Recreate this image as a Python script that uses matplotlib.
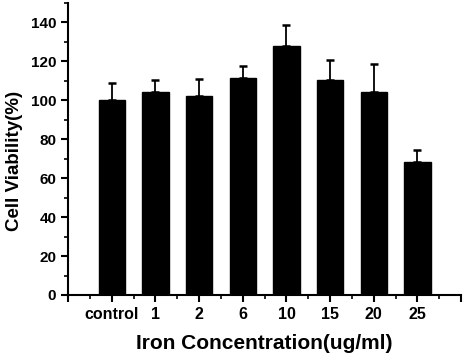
import numpy as np
import matplotlib
matplotlib.use("Agg")
import matplotlib.pyplot as plt
from matplotlib.ticker import MultipleLocator

plt.rcParams['font.family'] = ['Liberation Sans', 'DejaVu Sans']
plt.rcParams['font.weight'] = 'bold'

labels = ['control', '1', '2', '6', '10', '15', '20', '25']
viability = [100, 104.4, 102, 111.2, 127.7, 110.2, 104.4, 68.5]
errors = [9, 6, 9, 6.5, 11, 10.3, 14, 6]

fig = plt.figure(figsize=(4.63, 3.58), dpi=100)
ax = fig.add_axes([0.147, 0.176, 0.849, 0.816])

x = np.arange(1, len(labels) + 1)
ax.bar(x, viability, width=0.6, color='black', edgecolor='black')
ax.errorbar(x, viability, yerr=[np.zeros(len(errors)), errors], fmt='none',
            ecolor='black', elinewidth=1.3, capsize=3, capthick=1.8)

ax.set_xlim(0, 9)
ax.set_ylim(0, 150)
ax.set_xticks(np.arange(0, 10))
ax.set_xticklabels([''] + labels + [''])
ax.xaxis.set_minor_locator(MultipleLocator(0.5))
ax.yaxis.set_minor_locator(MultipleLocator(10))
ax.set_yticks(np.arange(0, 141, 20))

for s in ['top', 'right']:
    ax.spines[s].set_visible(False)
for s in ['left', 'bottom']:
    ax.spines[s].set_linewidth(1.5)

ax.tick_params(which='major', direction='out', length=5, width=1.5)
ax.tick_params(which='minor', direction='out', length=3, width=1.2)
ax.tick_params(axis='x', labelsize=11.5)
ax.tick_params(axis='y', labelsize=11)
for t in ax.get_xticklabels() + ax.get_yticklabels():
    t.set_fontweight('bold')

ax.set_xlabel('Iron Concentration(ug/ml)', fontsize=15, fontweight='bold', labelpad=9)
ax.set_ylabel('Cell Viability(%)', fontsize=13.5, fontweight='bold', labelpad=4)
ax.yaxis.set_label_coords(-0.115, 0.46)

fig.savefig('out.png', dpi=100)
